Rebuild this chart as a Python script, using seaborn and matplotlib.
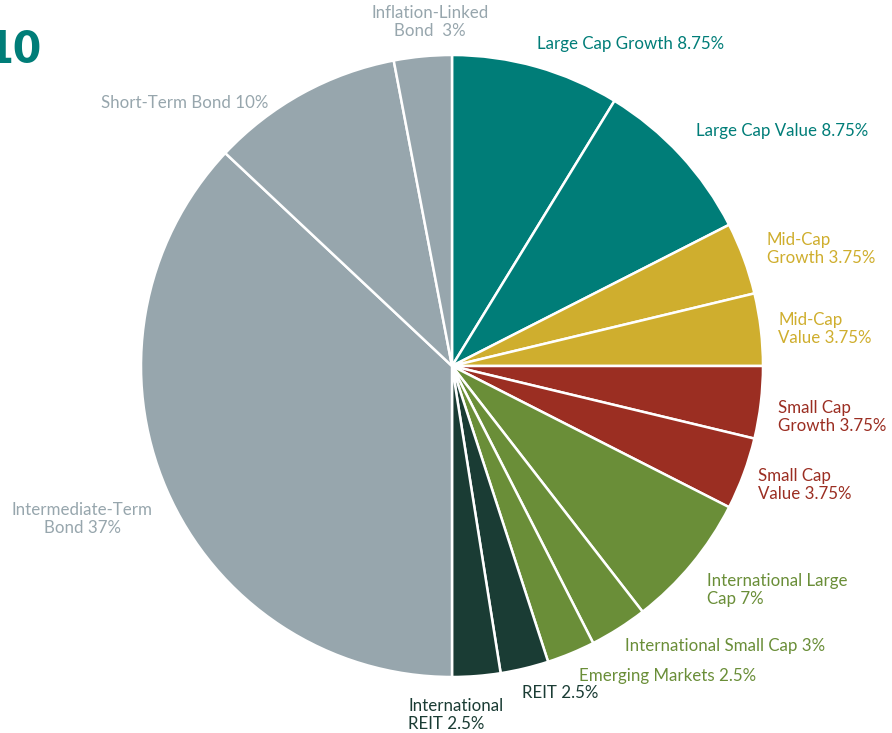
import matplotlib
matplotlib.use("Agg")
import matplotlib.pyplot as plt
import seaborn as sns

sns.set_theme(style="white")
plt.rcParams['font.family'] = ['Lato', 'DejaVu Sans']

# ---- data ----
categories = [
    "Large Cap Growth", "Large Cap Value", "Mid-Cap Growth", "Mid-Cap Value",
    "Small Cap Growth", "Small Cap Value", "International Large Cap",
    "International Small Cap", "Emerging Markets", "REIT", "International REIT",
    "Intermediate-Term Bond", "Short-Term Bond", "Inflation-Linked Bond",
]
values = [8.75, 8.75, 3.75, 3.75, 3.75, 3.75, 7, 3, 2.5, 2.5, 2.5, 37, 10, 3]
labels = [
    "Large Cap Growth 8.75%", "Large Cap Value 8.75%", "Mid-Cap\nGrowth 3.75%",
    "Mid-Cap\nValue 3.75%", "Small Cap\nGrowth 3.75%", "Small Cap\nValue 3.75%",
    "International Large\nCap 7%", "International Small Cap 3%",
    "Emerging Markets 2.5%", "REIT 2.5%", "International\nREIT 2.5%",
    "Intermediate-Term\nBond 37%", "Short-Term Bond 10%", "Inflation-Linked\nBond  3%",
]
title_text = "2010"

# ---- styles ----
TEAL, GOLD, RED, GREEN, DARK, GRAY = "#007d78", "#cfae2e", "#9b2e22", "#6a8e38", "#1a3c34", "#97a6ad"
slice_colors = [TEAL, TEAL, GOLD, GOLD, RED, RED, GREEN, GREEN, GREEN, DARK, DARK, GRAY, GRAY, GRAY]
label_colors = slice_colors
# label anchor positions in pixels (x, y from top), alignment
label_pos = [
    (537, 44, "left"), (696, 131, "left"), (767, 249, "left"), (778, 329, "left"),
    (778, 417, "left"), (758, 485, "left"), (707, 590, "left"), (625, 646, "left"),
    (579, 676, "left"), (522, 693, "left"), (408, 715, "left"),
    (82, 519, "center"), (268, 103, "right"), (430, 22, "center"),
]

W, H = 892, 733
fig = plt.figure(figsize=(W / 100, H / 100), dpi=100)
ax = fig.add_axes([0, 0, 1, 1])
ax.set_xlim(0, W)
ax.set_ylim(0, H)
ax.set_aspect("equal")
ax.axis("off")

ax.pie(values, colors=slice_colors, startangle=90, counterclock=False,
       center=(452, H - 366), radius=311,
       wedgeprops=dict(edgecolor="white", linewidth=1.8))
ax.set_xlim(0, W)
ax.set_ylim(0, H)

for lab, col, (x, y, ha) in zip(labels, label_colors, label_pos):
    ax.text(x, H - y, lab, color=col, ha=ha, va="center", fontsize=12.2,
            multialignment=ha, linespacing=1.1)

ax.text(41, H - 63, title_text, color=TEAL, ha="right", va="baseline",
        fontsize=33, fontweight="heavy", fontstretch="condensed")

fig.savefig("out.png", dpi=100)
